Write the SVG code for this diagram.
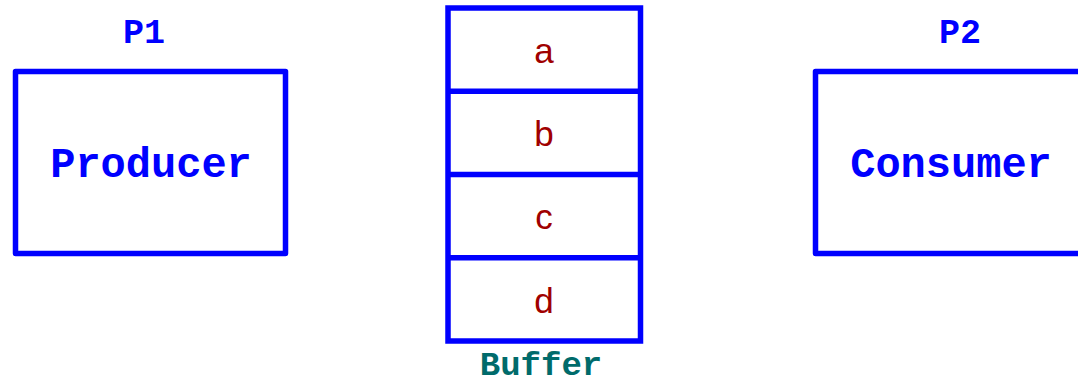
<svg xmlns="http://www.w3.org/2000/svg" width="1078" height="384" viewBox="0 0 1078 384">
  <style>
    .box { fill: #ffffff; stroke: #0000ff; stroke-width: 5.5; stroke-linejoin: round; }
    .cell { fill: none; stroke: #0000ff; stroke-width: 5.5; }
    .mono { font-family: "Liberation Mono", "Courier New", monospace; font-weight: bold; text-anchor: middle; }
    .title { fill: #0000ff; font-size: 42px; }
    .tag { fill: #0000ff; font-size: 35px; }
    .item { fill: #a00000; font-family: "Liberation Sans", Arial, sans-serif; font-size: 35px; text-anchor: middle; }
    .caption { fill: #006b6b; font-size: 34px; }
  </style>
  <rect width="1078" height="384" fill="#ffffff"/>

  <!-- producer process -->
  <g id="producer">
    <text class="mono tag" x="144" y="43">P1</text>
    <rect class="box" x="15.5" y="71.5" width="270" height="182"/>
    <text class="mono title" x="151" y="177">Producer</text>
  </g>

  <!-- shared buffer with four slots -->
  <g id="buffer">
    <rect class="cell" x="448" y="8" width="192.5" height="333"/>
    <line class="cell" x1="448" y1="91.2" x2="640.5" y2="91.2"/>
    <line class="cell" x1="448" y1="174.5" x2="640.5" y2="174.5"/>
    <line class="cell" x1="448" y1="257.8" x2="640.5" y2="257.8"/>
    <text class="item" x="544" y="62.5">a</text>
    <text class="item" x="544" y="146">b</text>
    <text class="item" x="544" y="229">c</text>
    <text class="item" x="544" y="312.5">d</text>
    <text class="mono caption" x="541" y="375">Buffer</text>
  </g>

  <!-- consumer process -->
  <g id="consumer">
    <text class="mono tag" x="960" y="43">P2</text>
    <rect class="box" x="815.5" y="71.5" width="270" height="182"/>
    <text class="mono title" x="951" y="177">Consumer</text>
  </g>

  <g id="connectors"/>
</svg>
